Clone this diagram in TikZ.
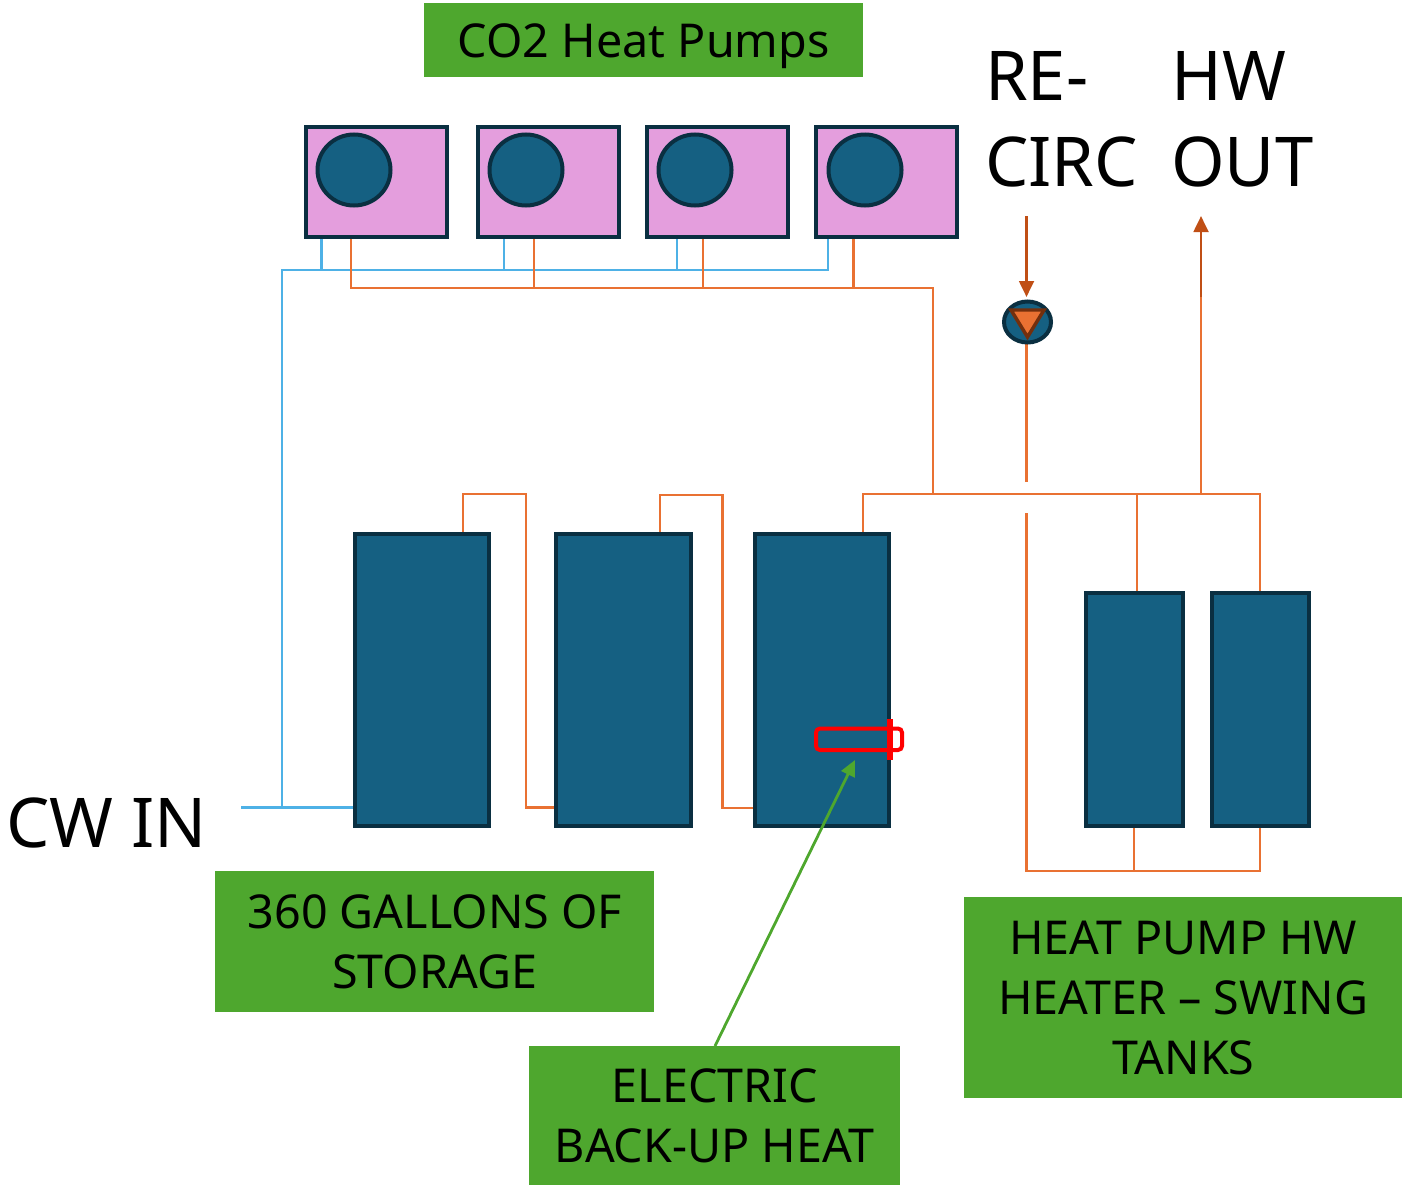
\documentclass[tikz,border=0pt]{standalone}
\usepackage{fontspec}
\setmainfont{Noto Sans}
\usetikzlibrary{arrows.meta}
\definecolor{tankfill}{HTML}{156082}
\definecolor{tankline}{HTML}{0A2F41}
\definecolor{hot}{HTML}{E97132}
\definecolor{hotdark}{HTML}{C04F15}
\definecolor{labelgreen}{HTML}{4EA72E}
\definecolor{pumppink}{HTML}{E49EDD}
\definecolor{coldblue}{HTML}{4EB1E6}
\tikzset{
 x=0.75pt,y=-0.75pt,
 tankbox/.style={draw=tankline,fill=tankfill,line width=3pt,anchor=north west,inner sep=0pt,rectangle},
 unit/.style={draw=tankline,fill=pumppink,line width=3pt,anchor=north west,inner sep=0pt,rectangle,minimum width=105.75pt,minimum height=82.5pt},
 tag/.style={fill=labelgreen,anchor=north west,inner sep=0pt,align=center,font=\fontsize{35}{45}\selectfont},
 big/.style={anchor=base west,inner sep=0pt,font=\fontsize{51.5}{52}\selectfont},
 cold/.style={draw=coldblue,line width=2.1pt},
 warm/.style={draw=hot,line width=2.1pt},
 hotarrow/.style={draw=hotdark,line width=2.1pt,-{Triangle[length=12pt,width=11pt]}},
}
\begin{document}
\begin{tikzpicture}
\useasboundingbox (0,0) rectangle (1402,1185);
% labels
\node[tag,minimum width=329.25pt,minimum height=55.5pt] (lhp) at (424,3) {\raisebox{-12.75pt}[0pt][0pt]{CO2 Heat Pumps}};
\node[tag,minimum width=329.25pt,minimum height=105.75pt] (lst) at (215,871) {360 GALLONS OF\\STORAGE};
\node[tag,minimum width=278.25pt,minimum height=104.25pt] (lel) at (529,1046) {ELECTRIC\\BACK-UP HEAT};
\node[tag,minimum width=328.5pt,minimum height=150.75pt] (lsw) at (964,897) {HEAT PUMP HW\\HEATER – SWING\\TANKS};
\node[big] (tre) at (985,100) {RE-};
\node[big] (tci) at (985,186) {CIRC};
\node[big] (thw) at (1171,100) {HW};
\node[big] (tou) at (1171,186) {OUT};
\node[big] (tcw) at (6,847) {CW IN};
% coordinates
\foreach \n/\x/\y in {
 a1/321.5/238,a2/504/238,a3/677/238,a4/828/238,
 b1/321.5/270,b2/504/270,b3/677/270,b4/828/270,bc/282/270,
 cc/282/807.5,ci/241/807.5,ct/354/807.5,
 o1/351/238,o2/534/238,o3/703/238,o4/853.5/238,
 p1/351/288,p2/534/288,p3/703/288,p4/853.5/288,p5/933/288,
 q0/933/494,q1/863/494,q2/863/533,q3/1137/494,q4/1137/592,q5/1260/494,q6/1260/592,q7/1201/494,
 r1/1201/297,r2/1201/216,
 s1/1026.5/216,s2/1026.5/297,s3/1026.5/343,s4/1026.5/482,s5/1026.5/513,s6/1026.5/871,s7/1134/871,s8/1134/828,s9/1260/871,s10/1260/828,
 u1/463/533,u2/463/494,u3/526/494,u4/526/807.5,u5/555/807.5,
 v1/660/533,v2/660/495,v3/722.5/495,v4/722.5/808,v5/754/808,
 h1/890/719,h2/890/760,g1/715/1046,g2/855/760}
 {\coordinate (\n) at (\x,\y);}
% connectors
\draw[cold] (a1)--(b1) (a2)--(b2) (a3)--(b3) (a4)--(b4)--(bc)--(cc) (ci)--(ct);
\draw[warm] (o1)--(p1)--(p5)--(q0) (o2)--(p2) (o3)--(p3) (o4)--(p4);
\draw[warm] (q2)--(q1)--(q5)--(q6) (q3)--(q4) (q7)--(r1);
\draw[warm] (s3)--(s4) (s5)--(s6)--(s9)--(s10) (s7)--(s8);
\draw[warm] (u1)--(u2)--(u3)--(u4)--(u5) (v1)--(v2)--(v3)--(v4)--(v5);
\draw[hotarrow] (r1)--(r2);
\draw[hotarrow] (s1)--(s2);
% heat pumps
\foreach \n/\x/\c in {1/303.5/354,2/475.5/526,3/644.5/695,4/813.5/865}{
 \node[unit] (hp\n) at (\x,124.5) {};
 \draw[draw=tankline,fill=tankfill,line width=3pt] (\c,170) ellipse [x radius=36.5,y radius=35.5];
}
% tanks
\node[tankbox,minimum width=100.5pt,minimum height=219pt] (t1) at (352.5,531.5) {};
\node[tankbox,minimum width=101.25pt,minimum height=219pt] (t2) at (554,531.5) {};
\node[tankbox,minimum width=100.5pt,minimum height=219pt] (t3) at (752.5,531.5) {};
\node[tankbox,minimum width=72.75pt,minimum height=175pt] (t4) at (1083.5,591) {};
\node[tankbox,minimum width=72.75pt,minimum height=175pt] (t5) at (1210,591) {};
% pump
\draw[draw=tankline,fill=tankfill,line width=3pt] (1027.5,322) ellipse [x radius=23.5,y radius=20.5];
\draw[draw=hotdark!60!black,fill=hot,line width=2.6pt,line join=miter] (1011,310)--(1044,310)--(1027.5,337)--cycle;
% heater
\draw[red,line width=3pt,rounded corners=3pt] (816,728.5) rectangle (902,750);
\draw[red,line width=4pt] (h1)--(h2);
% callout
\draw[draw=labelgreen,line width=2.1pt,-{Triangle[length=12pt,width=11pt]}] (g1)--(g2);
\end{tikzpicture}
\end{document}
